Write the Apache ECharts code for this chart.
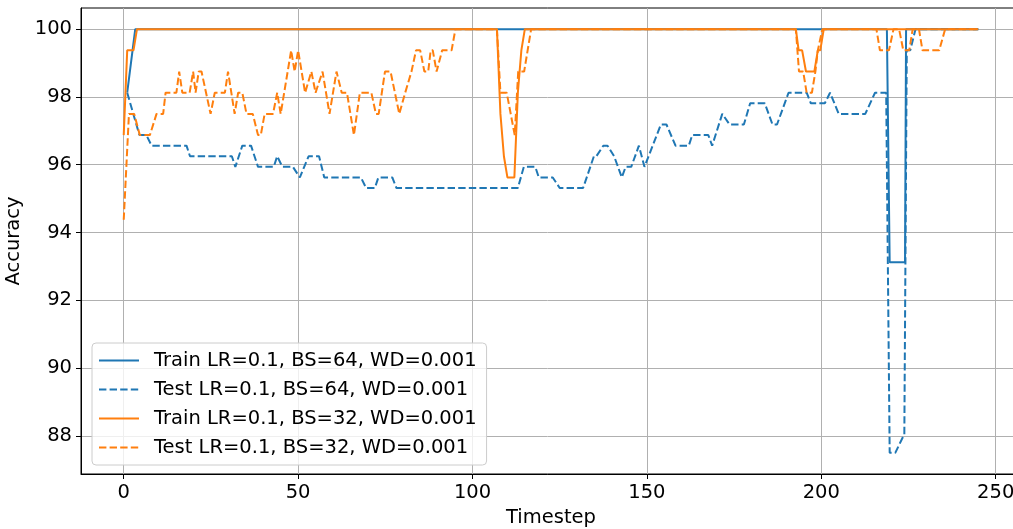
<!DOCTYPE html>
<html>
<head>
<meta charset="utf-8">
<script src="https://cdn.jsdelivr.net/npm/echarts@6/dist/echarts.min.js"></script>
<style>
  html, body { margin: 0; padding: 0; background: #fff; }
  #chart { width: 1013px; height: 529px; }
</style>
</head>
<body>
<div id="chart"></div>
<script>
// legend labels
const seriesNames = [
  "Train LR=0.1, BS=64, WD=0.001",
  "Test LR=0.1, BS=64, WD=0.001",
  "Train LR=0.1, BS=32, WD=0.001",
  "Test LR=0.1, BS=32, WD=0.001",
];

// [timestep, accuracy] vertices
const trainBS64 = [
  [1, 98.125], [3.3, 100], [218.8, 100], [219.6, 93.125], [224, 93.125], [224.3, 100], [245, 100],
];

const testBS64 = [
  [1, 98.125], [4.5, 96.875], [6.5, 96.875], [8, 96.5625], [18, 96.5625], [19, 96.25],
  [31, 96.25], [32, 95.9375], [34, 96.5625], [36.5, 96.5625], [38.5, 95.9375], [43, 95.9375],
  [44, 96.25], [45.5, 95.9375], [48.5, 95.9375], [50.5, 95.625], [53, 96.25], [56, 96.25],
  [57.5, 95.625], [68, 95.625], [69.5, 95.3125], [72, 95.3125], [73, 95.625], [77, 95.625],
  [78.2, 95.3125], [113, 95.3125], [114.7, 95.9375], [118, 95.9375], [119, 95.625], [123, 95.625],
  [125, 95.3125], [131.7, 95.3125], [134.8, 96.25], [135.5, 96.25], [137.5, 96.5625], [138.7, 96.5625],
  [140.6, 96.25], [141, 96.25], [142.8, 95.625], [143.9, 95.9375], [145.5, 95.9375], [147.7, 96.5625],
  [149.3, 95.9375], [154, 97.1875], [155.6, 97.1875], [158.2, 96.5625], [162, 96.5625], [163, 96.875],
  [167.6, 96.875], [168.7, 96.5625], [171.6, 97.5], [173.7, 97.1875], [177.8, 97.1875], [179.6, 97.8125],
  [183.8, 97.8125], [186, 97.1875], [187.3, 97.1875], [190.6, 98.125], [195.8, 98.125], [197, 97.8125],
  [201, 97.8125], [202.5, 98.125], [205, 97.5], [212.6, 97.5], [215.4, 98.125], [218.6, 98.125],
  [219.6, 87.5], [221.2, 87.5], [223.8, 88.05], [224.5, 99.375], [225.5, 99.375], [227, 100], [245, 100],
];

const trainBS32 = [
  [0, 96.875], [1, 99.375], [2.8, 99.375], [3.8, 100], [107, 100], [108, 97.5], [109, 96.25],
  [110, 95.625], [112, 95.625], [113, 98.125], [114, 99.375], [115, 100], [192.7, 100],
  [193.5, 99.375], [194.5, 99.375], [195.6, 98.75], [198, 98.75], [199, 99.375], [199.7, 99.375],
  [200.7, 100], [245, 100],
];

const testBS32 = [
  [0, 94.375], [1.5, 97.5], [3, 97.5], [4.6, 96.875], [7.5, 96.875], [9.4, 97.5], [11.3, 97.5],
  [12, 98.125], [15.1, 98.125], [15.9, 98.75], [16.8, 98.125], [18.9, 98.125], [19.9, 98.75],
  [20.6, 98.125], [21.5, 98.75], [22.3, 98.75], [24.9, 97.5], [26.1, 98.125], [29, 98.125],
  [29.9, 98.75], [31.8, 97.5], [32.8, 98.125], [34, 98.125], [35.2, 97.5], [37, 97.5],
  [38.5, 96.875], [39.3, 96.875], [40.4, 97.5], [42.8, 97.5], [44, 98.125], [45, 97.5],
  [48, 99.375], [49, 98.75], [50, 99.375], [52, 98.125], [53.8, 98.75], [55, 98.125],
  [57, 98.75], [59, 97.5], [61, 98.75], [62.5, 98.125], [64, 98.125], [66, 96.875],
  [67.7, 98.125], [71, 98.125], [72.3, 97.5], [73.1, 97.5], [74.9, 98.75], [76.5, 98.75],
  [79, 97.5], [80.7, 98.125], [82.5, 98.75], [83.8, 99.375], [85, 99.375], [86.2, 98.75],
  [87.3, 98.75], [88, 99.375], [88.6, 99.375], [89.7, 98.75], [91.3, 99.375], [94, 99.375],
  [95.1, 100], [107, 100], [108, 98.125], [109.8, 98.125], [112.1, 96.875], [113.1, 98.75],
  [114.8, 98.75], [116.8, 100], [192.7, 100], [193.6, 98.75], [194.8, 98.75], [195.8, 98.125],
  [197.3, 98.125], [198.3, 98.75], [199, 99.375], [200.3, 100], [215.8, 100], [216.8, 99.375],
  [219.4, 99.375], [220.7, 100], [222.3, 100], [223.5, 99.375], [225.2, 99.375], [226.2, 100],
  [228, 100], [229, 99.375], [233.8, 99.375], [235.5, 100], [245, 100],
];

const xTicks = [0, 50, 100, 150, 200, 250];
const yTicks = [88, 90, 92, 94, 96, 98, 100];

const blue = "#1f77b4";
const orange = "#ff7f0e";
const font = "DejaVu Sans";
const fontSize = 19.5;
const dash = [7.4, 3.2];

const chart = echarts.init(document.getElementById("chart"));

const axisCommon = {
  axisLine: { show: true, onZero: false, lineStyle: { color: "#000", width: 1 } },
  axisTick: { show: true, length: 5, lineStyle: { color: "#000", width: 1 } },
  splitLine: { show: true, lineStyle: { color: "#b0b0b0", width: 1 } },
  nameTextStyle: { fontFamily: font, fontSize: fontSize, color: "#000" },
};

const makeSeries = (name, data, color, dashed) => ({
  name: name,
  type: "line",
  data: data,
  showSymbol: false,
  symbol: "none",
  lineStyle: { color: color, width: 2, type: dashed ? dash : "solid" },
  itemStyle: { color: color },
});

const options = {
  animation: false,
  grid: {
    left: 81, top: 8, width: 940, height: 466,
    outerBoundsMode: "none",
    containLabel: false,
    show: true, borderColor: "#000", borderWidth: 1,
  },
  legend: {
    orient: "vertical",
    left: 92, top: 343,
    padding: [7, 10, 7, 6],
    itemGap: 8,
    itemWidth: 40,
    itemHeight: 14,
    selectedMode: false,
    backgroundColor: "rgba(255,255,255,0.8)",
    borderColor: "#cccccc",
    borderWidth: 1,
    borderRadius: 4,
    itemStyle: { color: "rgba(0,0,0,0)", borderWidth: 0, opacity: 0 },
    textStyle: { fontFamily: font, fontSize: fontSize, color: "#000", padding: [0, 0, 0, 10], lineHeight: 21 },
    data: seriesNames,
  },
  xAxis: {
    type: "value",
    min: -12.25,
    max: 257.25,
    name: "Timestep",
    nameLocation: "middle",
    nameGap: 34,
    ...axisCommon,
    axisTick: { ...axisCommon.axisTick, customValues: xTicks },
    axisLabel: { customValues: xTicks, fontFamily: font, fontSize: fontSize, color: "#000", margin: 9 },
  },
  yAxis: {
    type: "value",
    min: 86.875,
    max: 100.625,
    name: "Accuracy",
    nameLocation: "middle",
    nameGap: 48,
    ...axisCommon,
    axisTick: { ...axisCommon.axisTick, customValues: yTicks },
    axisLabel: { customValues: yTicks, fontFamily: font, fontSize: fontSize, color: "#000", margin: 9 },
  },
  series: [
    makeSeries(seriesNames[0], trainBS64, blue, false),
    makeSeries(seriesNames[1], testBS64, blue, true),
    makeSeries(seriesNames[2], trainBS32, orange, false),
    makeSeries(seriesNames[3], testBS32, orange, true),
  ],
};

chart.setOption(options);
</script>
</body>
</html>
